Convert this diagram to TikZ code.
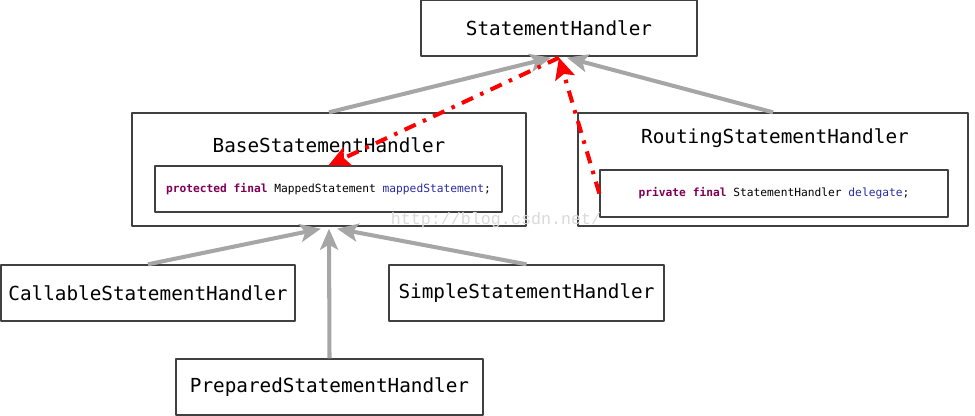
\documentclass[tikz,border=0pt]{standalone}
\usepackage{fontspec}
\setmonofont{DejaVu Sans Mono}
\newfontfamily\wmfont{Liberation Mono}
\usetikzlibrary{arrows.meta}
\definecolor{kw}{HTML}{7F0055}
\definecolor{fld}{HTML}{2A2AA0}
\definecolor{arrgray}{HTML}{A6A6A6}
\definecolor{boxline}{HTML}{404040}
\begin{document}
\begin{tikzpicture}[x=0.02cm,y=0.02cm,line join=round,font=\ttfamily\fontsize{11}{13}\selectfont,
	box/.style={draw=boxline,line width=0.8pt,inner sep=0pt,minimum height=1.12cm},
	code/.style={box,font=\ttfamily\fontsize{6.4}{8}\selectfont},
	inherit/.style={draw=arrgray,line width=2.3pt,-{Stealth[length=0.42cm,width=0.36cm,inset=0.1cm]}},
	dep/.style={draw=red,line width=2.3pt,dash pattern=on 7pt off 4.5pt on 2pt off 4.5pt,-{Stealth[length=0.42cm,width=0.4cm,inset=0.08cm]}}]
		\useasboundingbox (0,0) rectangle (975,416);
		% classes
		\node[box,minimum width=5.52cm] (sh) at (559,388) {StatementHandler};
		\node[box,minimum width=7.88cm,minimum height=2.26cm] (base) at (329,246.5) {};
		\node (baseT) at (329,271) {BaseStatementHandler};
		\node[code,minimum width=6.94cm,minimum height=0.92cm] (baseC) at (328.5,227) {\textcolor{kw}{\bfseries protected final} MappedStatement \textcolor{fld}{mappedStatement};};
		\node[box,minimum width=7.8cm,minimum height=2.26cm] (rout) at (773,246.5) {};
		\node (routT) at (775,278) {RoutingStatementHandler};
		\node[code,minimum width=6.96cm,minimum height=0.94cm] (routC) at (774,222.5) {\textcolor{kw}{\bfseries private final} StatementHandler \textcolor{fld}{delegate};};
		\node[box,minimum width=5.88cm] (call) at (148,123) {CallableStatementHandler};
		\node[box,minimum width=5.5cm] (simp) at (526.5,123) {SimpleStatementHandler};
		\node[box,minimum width=6.14cm] (prep) at (329.5,29) {PreparedStatementHandler};
		\node[text=black!15,font=\wmfont\fontsize{9.5}{11}\selectfont] (wm) at (496,196) {http://blog.csdn.net/};
		% inheritance
		\draw[inherit] (base.north) -- ([xshift=-0.16cm,yshift=-0.02cm]sh.south);
		\draw[inherit] (rout.north) -- ([xshift=0.16cm,yshift=-0.02cm]sh.south);
		\draw[inherit] (call.north) -- ([xshift=-0.16cm,yshift=-0.04cm]base.south);
		\draw[inherit] (simp.north) -- ([xshift=0.16cm,yshift=-0.04cm]base.south);
		\draw[inherit] (prep.north) -- ([yshift=-0.04cm]base.south);
		% fields
		\draw[dep] ([yshift=-0.02cm]sh.south) -- (baseC.north);
		\draw[dep] (routC.west) -- ([yshift=-0.02cm]sh.south);
\end{tikzpicture}
\end{document}
